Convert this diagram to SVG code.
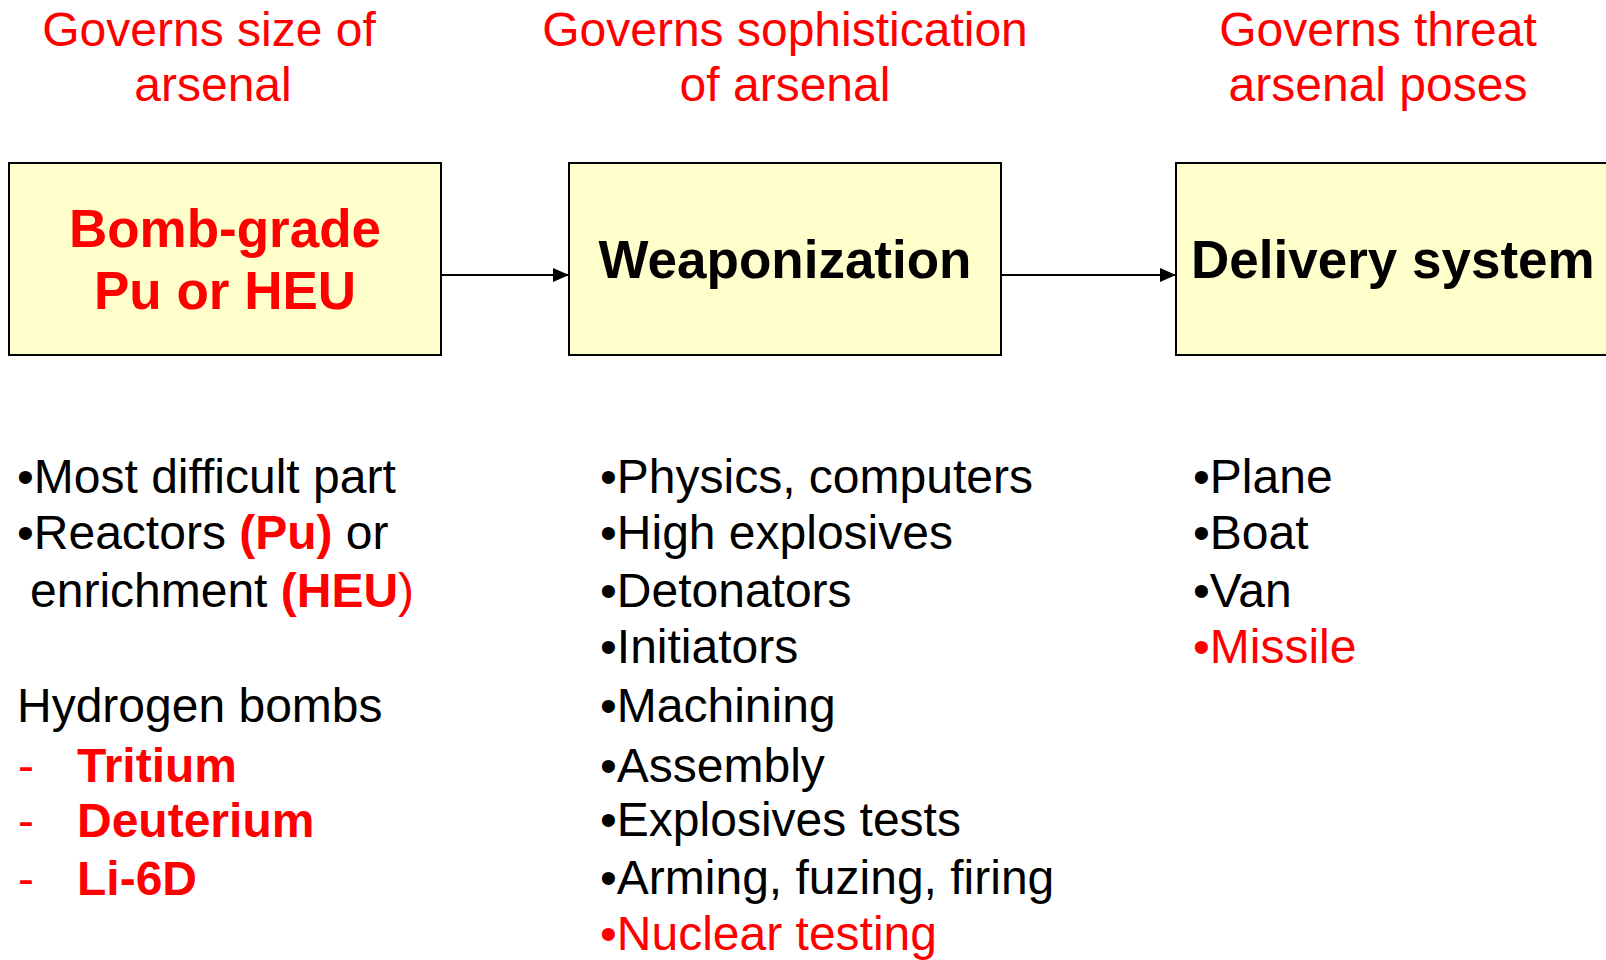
<svg xmlns="http://www.w3.org/2000/svg" width="1606" height="960" viewBox="0 0 1606 960">
<style>
text{font-family:"Liberation Sans",Arial,sans-serif;}
.hdr{font-size:48px;fill:#FF0000;text-anchor:middle;}
.box{fill:#FFFFCC;stroke:#000;stroke-width:2;}
.bt{font-size:53px;font-weight:bold;}
.li{font-size:48px;fill:#000;}
.r{fill:#FF0000;}
.b{font-weight:bold;}
.conn{stroke:#000;stroke-width:2;fill:none;}
</style>
<defs>
<marker id="arr" markerWidth="16" markerHeight="14" refX="16" refY="7" orient="auto" markerUnits="userSpaceOnUse">
<path d="M0,0 L16,7 L0,14 Z" fill="#000"/>
</marker>
</defs>
<g id="headers">
<text class="hdr" x="209" y="46">Governs size of</text>
<text class="hdr" x="213" y="101">arsenal</text>
<text class="hdr" x="785" y="46">Governs sophistication</text>
<text class="hdr" x="785" y="101">of arsenal</text>
<text class="hdr" x="1378" y="46">Governs threat</text>
<text class="hdr" x="1378" y="101">arsenal poses</text>
</g>
<g id="connectors">
<line class="conn" x1="441" y1="275" x2="569" y2="275" marker-end="url(#arr)"/>
<line class="conn" x1="1001" y1="275" x2="1176" y2="275" marker-end="url(#arr)"/>
</g>
<g id="node-bomb-grade">
<rect class="box" x="9" y="163" width="432" height="192"/>
<text class="bt r" x="225" y="247" text-anchor="middle">Bomb-grade</text>
<text class="bt r" x="225" y="309" text-anchor="middle">Pu or HEU</text>
</g>
<g id="node-weaponization">
<rect class="box" x="569" y="163" width="432" height="192"/>
<text class="bt" x="785" y="278" text-anchor="middle">Weaponization</text>
</g>
<g id="node-delivery">
<rect class="box" x="1176" y="163" width="440" height="192"/>
<text class="bt" x="1191" y="278">Delivery system</text>
</g>
<g id="list-left">
<text class="li" x="17" y="493">•Most difficult part</text>
<text class="li" x="17" y="549">•Reactors <tspan class="r b">(Pu)</tspan> or</text>
<text class="li" x="30" y="607">enrichment <tspan class="r b">(HEU</tspan><tspan class="r">)</tspan></text>
<text class="li" x="17" y="722">Hydrogen bombs</text>
<text class="li r" x="18" y="782">-</text>
<text class="li r b" x="77" y="782">Tritium</text>
<text class="li r" x="18" y="837">-</text>
<text class="li r b" x="77" y="837">Deuterium</text>
<text class="li r" x="18" y="895">-</text>
<text class="li r b" x="77" y="895">Li-6D</text>
</g>
<g id="list-middle">
<text class="li" x="600" y="493">•Physics, computers</text>
<text class="li" x="600" y="549">•High explosives</text>
<text class="li" x="600" y="607">•Detonators</text>
<text class="li" x="600" y="663">•Initiators</text>
<text class="li" x="600" y="722">•Machining</text>
<text class="li" x="600" y="782">•Assembly</text>
<text class="li" x="600" y="836">•Explosives tests</text>
<text class="li" x="600" y="894">•Arming, fuzing, firing</text>
<text class="li r" x="600" y="950">•Nuclear testing</text>
</g>
<g id="list-right">
<text class="li" x="1193" y="493">•Plane</text>
<text class="li" x="1193" y="549">•Boat</text>
<text class="li" x="1193" y="607">•Van</text>
<text class="li r" x="1193" y="663">•Missile</text>
</g>
</svg>
